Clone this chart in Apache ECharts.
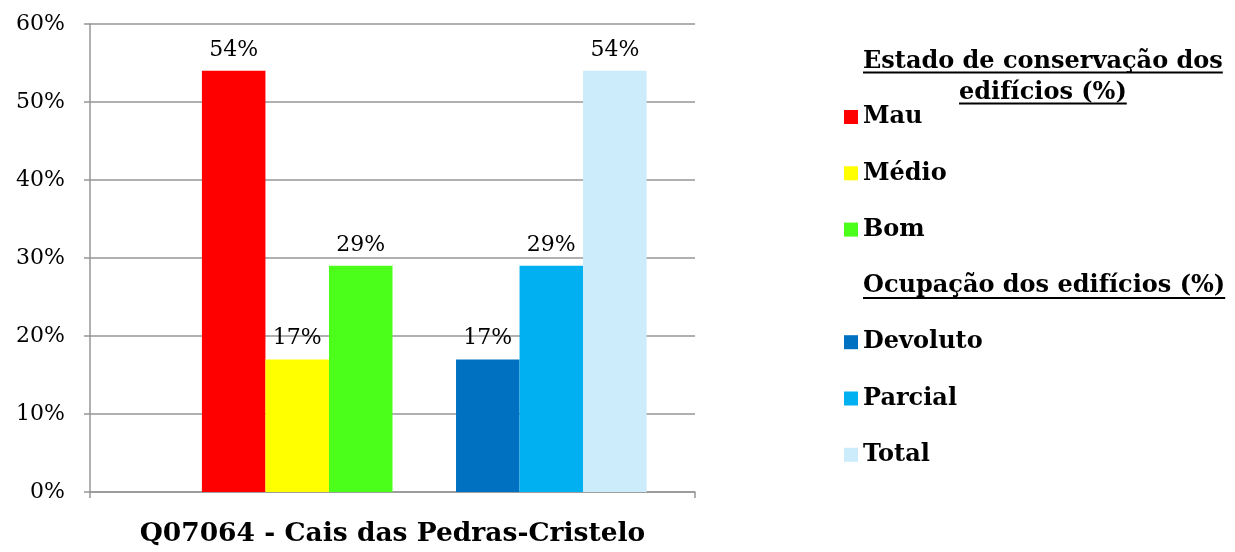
<!DOCTYPE html>
<html><head><meta charset="utf-8">
<script src="https://cdn.jsdelivr.net/npm/echarts@6/dist/echarts.min.js"></script>
<style>html,body{margin:0;padding:0;background:#fff}#chart{width:1235px;height:552px}</style>
</head><body><div id="chart"></div>
<script>
const categories = ['Q07064 - Cais das Pedras-Cristelo'];
const header1Lines = ['Estado de conservação dos', 'edifícios (%)'];
const header1 = header1Lines.join(' ');
const header2 = 'Ocupação dos edifícios (%)';
const seriesNames = [header1, 'Mau', 'Médio', 'Bom', header2, 'Devoluto', 'Parcial', 'Total'];
const mau = [54], medio = [17], bom = [29], devoluto = [17], parcial = [29], total = [54];
const blank = [null];
const seriesValues = [blank, mau, medio, bom, blank, devoluto, parcial, total];
const seriesColors = ['#ffffff', '#FF0000', '#FFFF00', '#4CFF1A', '#ffffff', '#0070C0', '#00B0F0', '#CCEBFB'];
const yMin = 0, yMax = 60, yInterval = 10;

const SERIF = '"DejaVu Serif", "Liberation Serif", serif';
const legendFont = 24;
const ctx = document.createElement('canvas').getContext('2d');
ctx.font = 'bold ' + legendFont + 'px ' + SERIF;
const wH1a = ctx.measureText(header1Lines[0]).width;
const wH1b = ctx.measureText(header1Lines[1]).width;
const wH2 = ctx.measureText(header2).width;

const legendTextX = 863;
const h1cx = legendTextX + wH1a / 2;

const chart = echarts.init(document.getElementById('chart'), null, {renderer: 'canvas'});
const series = seriesNames.map((name, i) => ({
  name: name,
  type: 'bar',
  data: seriesValues[i],
  barGap: '0%',
  barCategoryGap: '16%',
  itemStyle: {color: seriesColors[i]},
  label: {
    show: seriesValues[i][0] != null,
    position: 'top',
    distance: 10,
    formatter: '{c}%',
    fontFamily: SERIF,
    fontSize: 22,
    color: '#000'
  }
}));

const legendItems = seriesNames.slice(1).map(n => n === header2 ? {name: n, icon: 'none'} : {name: n, icon: 'rect'});

chart.setOption({
  animation: false,
  backgroundColor: '#fff',
  grid: {left: 90, right: 540, top: 24, bottom: 60, containLabel: false},
  xAxis: {
    type: 'category',
    data: categories,
    axisLine: {lineStyle: {color: '#969696', width: 1.5}},
    axisTick: {show: true, length: 6, lineStyle: {color: '#969696', width: 1.5}},
    axisLabel: {fontFamily: SERIF, fontWeight: 'bold', fontSize: 26.5, color: '#000', margin: 29}
  },
  yAxis: {
    type: 'value',
    min: yMin, max: yMax, interval: yInterval,
    axisLine: {show: true, lineStyle: {color: '#969696', width: 1.5}},
    axisTick: {show: true, length: 6, lineStyle: {color: '#969696', width: 1.5}},
    splitLine: {lineStyle: {color: '#969696', width: 1.5}},
    axisLabel: {formatter: '{value}%', fontFamily: SERIF, fontSize: 22, color: '#000', margin: 25}
  },
  legend: {
    orient: 'vertical',
    left: legendTextX - 5 - 14,
    top: 102,
    padding: 0,
    itemWidth: 14,
    itemHeight: 14,
    itemGap: 26.3,
    selectedMode: false,
    data: legendItems,
    textStyle: {fontFamily: SERIF, fontWeight: 'bold', fontSize: legendFont, color: '#000', lineHeight: 30}
  },
  graphic: [
    {type: 'text', style: {text: header1Lines.join('\n'), x: h1cx, y: 77.5, align: 'center', verticalAlign: 'middle',
      fontFamily: SERIF, fontWeight: 'bold', fontSize: legendFont, lineHeight: 31, fill: '#000'}},
    {type: 'line', shape: {x1: h1cx - wH1a / 2, y1: 72.5, x2: h1cx + wH1a / 2, y2: 72.5}, style: {stroke: '#000', lineWidth: 2}},
    {type: 'line', shape: {x1: h1cx - wH1b / 2, y1: 103.5, x2: h1cx + wH1b / 2, y2: 103.5}, style: {stroke: '#000', lineWidth: 2}},
    {type: 'line', shape: {x1: legendTextX, y1: 298, x2: legendTextX + wH2, y2: 298}, style: {stroke: '#000', lineWidth: 2}}
  ],
  series: series
});
</script></body></html>
